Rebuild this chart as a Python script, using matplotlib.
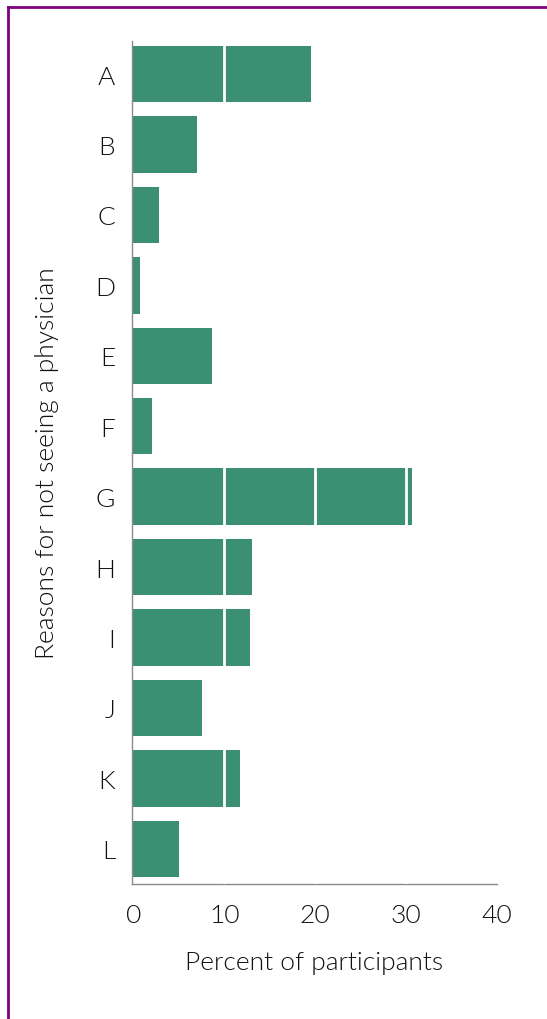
import matplotlib
matplotlib.use("Agg")
import matplotlib.pyplot as plt
from matplotlib.lines import Line2D

categories = ["A", "B", "C", "D", "E", "F", "G", "H", "I", "J", "K", "L"]
values = [19.5, 7.05, 2.85, 0.75, 8.6, 2.0, 30.6, 13.0, 12.8, 7.5, 11.7, 5.0]
xticks = [0, 10, 20, 30, 40]

plt.rcParams['font.family'] = ['Lato', 'DejaVu Sans']

fig = plt.figure(figsize=(5.47, 10.20), dpi=100)
W, H = 547, 1020
ax = fig.add_axes([132 / W, 1 - 885 / H, (497 - 132) / W, (885 - 42) / H])

ypos = list(range(len(categories)))
ax.barh(ypos, values, height=0.8, color="#3b8f72", zorder=2)
for g in [10, 20, 30]:
    ax.axvline(g, color="white", lw=2, zorder=3)

ax.set_ylim(11.5, -0.47)
ax.set_xlim(-0.15, 40)
ax.set_xticks(xticks)
ax.set_xticklabels([str(t) for t in xticks])
ax.set_yticks(ypos)
ax.set_yticklabels(categories)
ax.tick_params(length=0, labelsize=19, colors="#111111")
ax.tick_params(axis='y', pad=12)
ax.tick_params(axis='x', pad=14)
for lab in ax.get_xticklabels() + ax.get_yticklabels():
    lab.set_fontweight(300)

for s in ["top", "right"]:
    ax.spines[s].set_visible(False)
for s in ["left", "bottom"]:
    ax.spines[s].set_color("#8a8a8a")
    ax.spines[s].set_linewidth(1)

ax.set_xlabel("Percent of participants", fontsize=19, fontweight=300, color="#111111", labelpad=16)
ax.set_ylabel("Reasons for not seeing a physician", fontsize=19, fontweight=300, color="#111111", labelpad=26)

purple = "#800080"
fig.add_artist(Line2D([8 / W, 1], [1 - 8 / H, 1 - 8 / H], color=purple, lw=2, transform=fig.transFigure))
fig.add_artist(Line2D([8 / W, 8 / W], [0, 1 - 8 / H], color=purple, lw=2, transform=fig.transFigure))

fig.savefig("out.png", dpi=100, facecolor="white")
